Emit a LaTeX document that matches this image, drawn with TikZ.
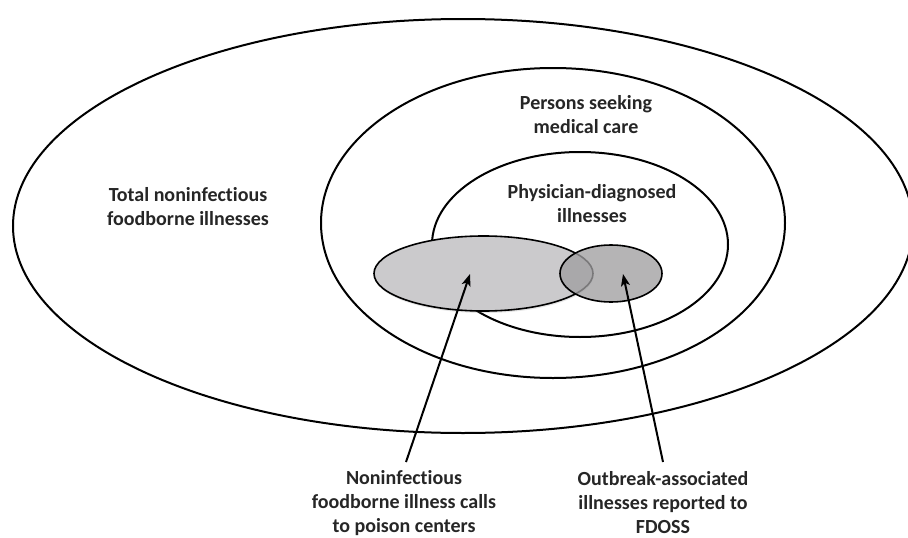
\documentclass[tikz,border=0pt]{standalone}
\usepackage{fontspec}
\setmainfont{Carlito}[Ligatures=NoCommon]
\usetikzlibrary{arrows.meta,shapes.geometric,shadows}
\definecolor{graylight}{HTML}{CBCACC}
\definecolor{graydark}{HTML}{9F9EA0}
\tikzset{
  ring/.style={draw=black, line width=2pt},
  blob/.style={ellipse, draw=black, line width=1.6pt, inner sep=0pt},
  softshadow/.style={drop shadow={shadow xshift=0.5pt, shadow yshift=-2pt, opacity=0.2}},
  lbl/.style={font=\fontsize{20}{24}\selectfont\bfseries, align=center, text=black!85, inner sep=0pt},
  pointer/.style={line width=2pt, -{Stealth[length=12pt,width=9pt,inset=3pt]}}
}
\begin{document}
\begin{tikzpicture}[x=1pt,y=-1pt]
\useasboundingbox (0,0) rectangle (908,538);
\fill[white] (0,0) rectangle (908,538);
% nested populations
\draw[ring] (463,226) ellipse [x radius=450, y radius=207];
\draw[ring] (553,223) ellipse [x radius=232, y radius=155];
\draw[ring] (580,244.5) ellipse [x radius=148, y radius=92.5];
% gray subsets
\node[blob, softshadow, fill=graylight, minimum width=219pt, minimum height=75pt] (poison) at (483.5,273.5) {};
\node[blob, fill=graydark, fill opacity=0.77, minimum width=102pt, minimum height=57pt] (fdoss) at (611,273.5) {};
% labels
\node[lbl] (total) at (188,207) {Total noninfectious\\foodborne illnesses};
\node[lbl] (persons) at (586,115) {Persons seeking\\medical care};
\node[lbl] (phys) at (592,204) {Physician-diagnosed\\illnesses};
\node[lbl] (calls) at (404,503) {Noninfectious\\foodborne illness calls\\to poison centers};
\node[lbl] (outb) at (663,503) {Outbreak-associated\\illnesses reported to\\FDOSS};
% arrows
\coordinate (tipA) at (470,274);
\coordinate (tipB) at (623,274);
\coordinate (tailA) at (406,462);
\coordinate (tailB) at (663,462);
\draw[pointer] (tailA) -- (tipA);
\draw[pointer] (tailB) -- (tipB);
\end{tikzpicture}
\end{document}
